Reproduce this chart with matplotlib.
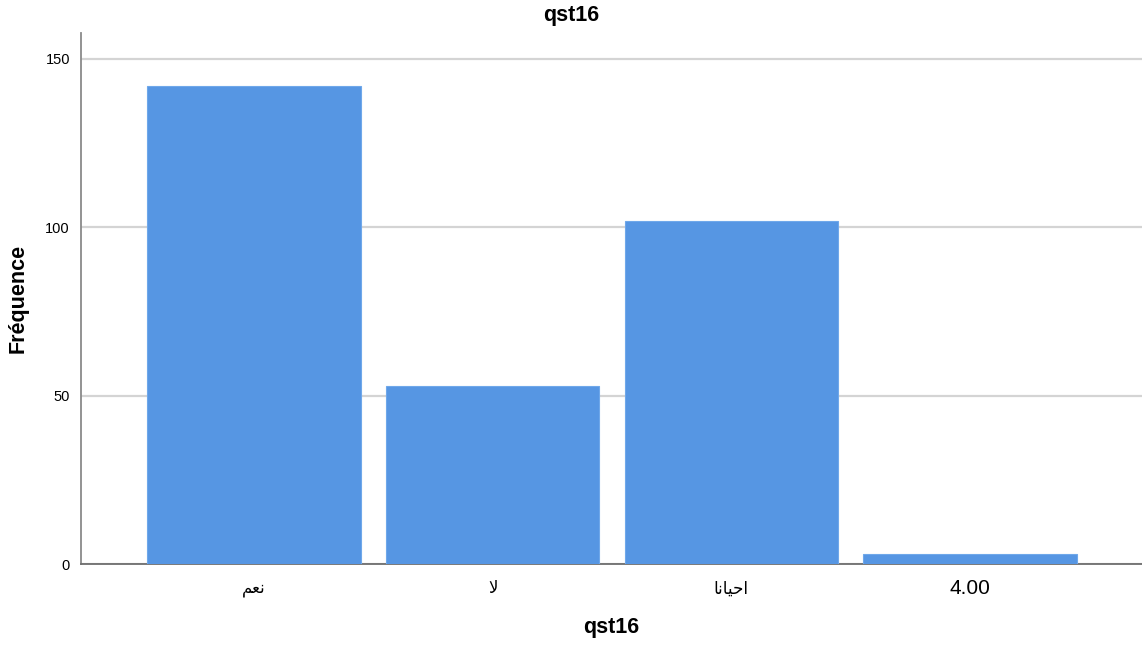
import matplotlib
matplotlib.use("Agg")
import matplotlib.pyplot as plt

categories = ["نعم", "لا", "احيانا", "4.00"]
frequencies = [142, 53, 102, 3]
y_ticks = [0, 50, 100, 150]
title = "qst16"
x_label = "qst16"
y_label = "Fréquence"

# minimal Arabic shaping (presentation forms) since matplotlib has no shaping
FORMS = {
    "ا": ("\uFE8D", "\uFE8E", None, None),
    "أ": ("\uFE83", "\uFE84", None, None),
    "ح": ("\uFEA1", "\uFEA2", "\uFEA3", "\uFEA4"),
    "ي": ("\uFEF1", "\uFEF2", "\uFEF3", "\uFEF4"),
    "ن": ("\uFEE5", "\uFEE6", "\uFEE7", "\uFEE8"),
    "ع": ("\uFEC9", "\uFECA", "\uFECB", "\uFECC"),
    "م": ("\uFEE1", "\uFEE2", "\uFEE3", "\uFEE4"),
    "ل": ("\uFEDD", "\uFEDE", "\uFEDF", "\uFEE0"),
    "LA": ("\uFEFB", "\uFEFC", None, None),
}


def shape(s):
    if not any(c in FORMS for c in s):
        return s
    toks = []
    i = 0
    while i < len(s):
        if s[i] == "ل" and i + 1 < len(s) and s[i + 1] == "ا":
            toks.append("LA")
            i += 2
        else:
            toks.append(s[i])
            i += 1
    out = []
    for k, t in enumerate(toks):
        if t not in FORMS:
            out.append(t)
            continue
        f = FORMS[t]
        prev_joins = k > 0 and toks[k - 1] in FORMS and FORMS[toks[k - 1]][2] is not None
        next_joins = (k + 1 < len(toks) and toks[k + 1] in FORMS and f[2] is not None)
        if prev_joins and next_joins:
            out.append(f[3])
        elif prev_joins:
            out.append(f[1])
        elif next_joins:
            out.append(f[2])
        else:
            out.append(f[0])
    return "".join(reversed(out))


plt.rcParams["font.family"] = ["Liberation Sans", "DejaVu Sans"]

fig = plt.figure(figsize=(11.42, 6.46), dpi=100)
ax = fig.add_axes([81 / 1142, 1 - 564 / 646, 1 - 81 / 1142, (564 - 33) / 646])

x = list(range(len(categories)))
ax.bar(x, frequencies, width=0.895, color="#5696E3", edgecolor="#6FA8EA",
       linewidth=0.8, zorder=3)

ax.set_xlim(-0.724, 3.72)
ax.set_ylim(0, 157.7)
ax.set_yticks(y_ticks)
ax.set_yticklabels([str(v) for v in y_ticks], fontsize=10.5)
ax.yaxis.grid(True, color="#d4d4d4", linewidth=1.6, zorder=0)
ax.set_axisbelow(True)

ax.set_xticks(x)
labels = ax.set_xticklabels([shape(c) for c in categories])
for lab, c in zip(labels, categories):
    if any(ch in FORMS for ch in c):
        lab.set_fontfamily(["DejaVu Sans"])
        lab.set_fontsize(12)
    else:
        lab.set_fontsize(15)
ax.tick_params(axis="x", length=0, pad=11)
ax.tick_params(axis="y", length=0, pad=8)

for side in ["top", "right"]:
    ax.spines[side].set_visible(False)
ax.spines["left"].set_color("#8a8a8a")
ax.spines["left"].set_linewidth(1.3)
ax.spines["bottom"].set_color("#6e6e6e")
ax.spines["bottom"].set_linewidth(1.3)

fig.text(0.5, 1 - 15 / 646, title, ha="center", va="center",
         fontsize=15.5, fontweight="bold")
fig.text((81 + 1142) / 2 / 1142, 1 - 628 / 646, x_label, ha="center", va="center",
         fontsize=15.5, fontweight="bold")
fig.text(18 / 1142, 1 - 298 / 646, y_label, ha="center", va="center",
         rotation=90, fontsize=15.5, fontweight="bold")

fig.savefig("out.png", dpi=100)
